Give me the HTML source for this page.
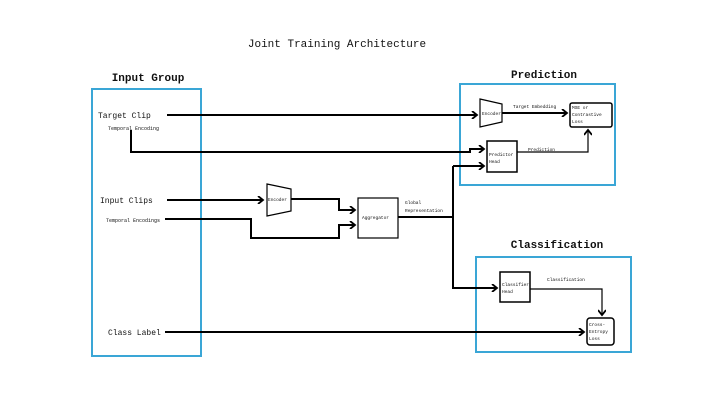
<!DOCTYPE html>
<html><head><style>
body{margin:0;background:#fff;}
svg text{font-family:"Liberation Mono",monospace;fill:#111;}
</style></head><body>
<svg width="720" height="405" viewBox="0 0 720 405">
<defs><marker id="a" markerWidth="8" markerHeight="8" refX="6" refY="4" orient="auto" markerUnits="userSpaceOnUse"><path d="M1,0 L6,4 L1,8" fill="none" stroke="#000" stroke-width="1.8"/></marker></defs>
<text x="337" y="47" font-size="11" text-anchor="middle">Joint Training Architecture</text>
<text x="148" y="81" font-size="11" font-weight="bold" text-anchor="middle">Input Group</text>
<text x="544" y="78" font-size="11" font-weight="bold" text-anchor="middle">Prediction</text>
<text x="557" y="248" font-size="11" font-weight="bold" text-anchor="middle">Classification</text>
<rect x="92" y="89" width="109" height="267" fill="none" stroke="#3aa6d6" stroke-width="2"/>
<rect x="460" y="84" width="155" height="101" fill="none" stroke="#3aa6d6" stroke-width="2"/>
<rect x="476" y="257" width="155" height="95" fill="none" stroke="#3aa6d6" stroke-width="2"/>
<text x="98" y="118" font-size="8">Target Clip</text>
<text x="108" y="130" font-size="5">Temporal Encoding</text>
<text x="100" y="203" font-size="8">Input Clips</text>
<text x="106" y="222" font-size="5">Temporal Encodings</text>
<text x="108" y="335" font-size="8">Class Label</text>
<g fill="none" stroke="#000" stroke-width="2">
<path d="M167,115 H477" marker-end="url(#a)"/>
<path d="M131,130 V152 H470 V149 H484" marker-end="url(#a)"/>
<path d="M167,200 H263" marker-end="url(#a)"/>
<path d="M291,199 H339 V210 H355" marker-end="url(#a)"/>
<path d="M165,219 H251 V238 H339 V225 H355" marker-end="url(#a)"/>
<path d="M398,217 H453"/>
<path d="M453,166 V288 H497" marker-end="url(#a)"/>
<path d="M453,166 H484" marker-end="url(#a)"/>
<path d="M502,113 H567" marker-end="url(#a)"/>
<path d="M165,332 H584" marker-end="url(#a)"/>
</g>
<g fill="none" stroke="#000" stroke-width="1.2">
<path d="M517,152 H588 V130" marker-end="url(#a)"/>
<path d="M530,289 H602 V315" marker-end="url(#a)"/>
</g>
<polygon points="480,99 502,104 502,122 480,127" fill="#fff" stroke="#000" stroke-width="1.2"/>
<polygon points="267,184 291,189 291,211 267,216" fill="#fff" stroke="#000" stroke-width="1.2"/>
<rect x="570" y="103" width="42" height="24" rx="2" fill="#fff" stroke="#000" stroke-width="1.5"/>
<rect x="487" y="141" width="30" height="31" fill="#fff" stroke="#000" stroke-width="1.5"/>
<rect x="358" y="198" width="40" height="40" fill="#fff" stroke="#000" stroke-width="1.2"/>
<rect x="500" y="272" width="30" height="30" fill="#fff" stroke="#000" stroke-width="1.5"/>
<rect x="587" y="318" width="27" height="27" rx="3" fill="#fff" stroke="#000" stroke-width="1.5"/>
<g font-size="4.5">
<text x="482" y="115">Encoder</text>
<text x="268" y="201">Encoder</text>
<text x="513" y="108">Target Embedding</text>
<text x="572" y="109">MSE or</text><text x="572" y="116">Contrastive</text><text x="572" y="123">Loss</text>
<text x="489" y="156">Predictor</text><text x="489" y="163">Head</text>
<text x="528" y="151">Prediction</text>
<text x="362" y="219">Aggregator</text>
<text x="405" y="204">Global</text><text x="405" y="212">Representation</text>
<text x="502" y="286">Classifier</text><text x="502" y="293">Head</text>
<text x="547" y="281">Classification</text>
<text x="589" y="326">Cross-</text><text x="589" y="333">Entropy</text><text x="589" y="340">Loss</text>
</g>
</svg>
</body></html>
